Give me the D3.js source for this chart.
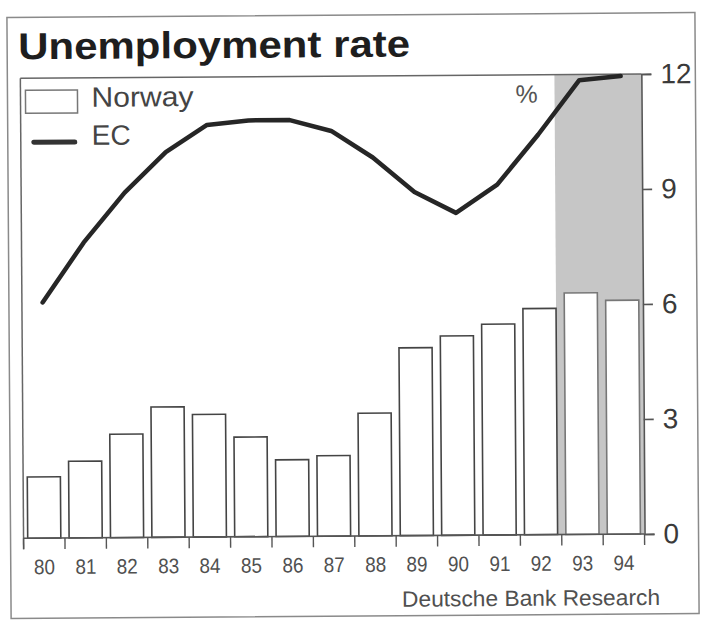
<!DOCTYPE html>
<html>
<head>
<meta charset="utf-8">
<script src="https://cdn.jsdelivr.net/npm/d3@7"></script>
<style>
  html, body { margin: 0; padding: 0; background: #fff; }
  svg { display: block; }
  text { font-family: "Liberation Sans", Arial, sans-serif; }
</style>
</head>
<body>
<svg id="chart" width="703" height="628"></svg>
<script>
// Unemployment rate, Norway (bars) vs EC (line), per cent
const years = ["80","81","82","83","84","85","86","87","88","89","90","91","92","93","94"];
const norway = [1.6, 2.0, 2.7, 3.4, 3.2, 2.6, 2.0, 2.1, 3.2, 4.9, 5.2, 5.5, 5.9, 6.3, 6.1];
const ec = [6.15, 7.7, 9.0, 10.05, 10.75, 10.86, 10.86, 10.57, 9.87, 8.96, 8.41, 9.14, 10.44, 11.85, 11.95];
const yTicks = [0, 3, 6, 9, 12];
const forecastYears = ["93", "94"];

const svg = d3.select("#chart");
const root = svg.append("g").attr("transform", "rotate(-0.4 351 314)");

const plotLeft = 22, plotRight = 643, plotTop = 76, plotBottom = 536;

const x = d3.scaleBand().domain(years).range([plotLeft, plotRight])
  .paddingInner(0.2).paddingOuter(0.1);
const y = d3.scaleLinear().domain([0, 12]).range([plotBottom, plotTop]);
const gap = x.step() * x.paddingInner();

// outer frame
root.append("rect").attr("x", 9).attr("y", 15).attr("width", 688).attr("height", 601)
  .attr("fill", "none").attr("stroke", "#8a8a8a").attr("stroke-width", 1.5);

// title
root.append("text").attr("x", 20).attr("y", 57)
  .attr("font-size", 37.5).attr("font-weight", "bold").attr("fill", "#1e1e1e")
  .attr("textLength", 392).attr("lengthAdjust", "spacingAndGlyphs")
  .text("Unemployment rate");

// shaded forecast period
const shadeX0 = x(forecastYears[0]) - gap;
root.append("rect").attr("x", shadeX0).attr("y", plotTop)
  .attr("width", plotRight - shadeX0).attr("height", plotBottom - plotTop)
  .attr("fill", "#c6c6c6");

// plot frame: top line and left line
root.append("line").attr("x1", plotLeft).attr("x2", plotRight).attr("y1", plotTop).attr("y2", plotTop)
  .attr("stroke", "#666").attr("stroke-width", 1.5);
root.append("line").attr("x1", plotLeft).attr("x2", plotLeft).attr("y1", plotTop).attr("y2", plotBottom + 11)
  .attr("stroke", "#666").attr("stroke-width", 1.5);

// Norway bars
root.append("g").selectAll("rect").data(years).join("rect")
  .attr("x", d => x(d))
  .attr("y", (d, i) => y(norway[i]))
  .attr("width", x.bandwidth())
  .attr("height", (d, i) => plotBottom - y(norway[i]))
  .attr("fill", "#fff")
  .attr("stroke", d => forecastYears.includes(d) ? "#777" : "#444")
  .attr("stroke-width", 1.6);

// EC line
const line = d3.line()
  .x((d, i) => x(years[i]) + x.bandwidth() / 2)
  .y(d => y(d));
root.append("path").datum(ec).attr("d", line)
  .attr("fill", "none").attr("stroke", "#262626").attr("stroke-width", 4.5)
  .attr("stroke-linejoin", "round").attr("stroke-linecap", "round");

// x axis: baseline, boundary ticks, labels
const xAxis = root.append("g");
xAxis.append("line").attr("x1", plotLeft).attr("x2", plotRight).attr("y1", plotBottom).attr("y2", plotBottom)
  .attr("stroke", "#555").attr("stroke-width", 1.6);
const boundaries = years.map(d => x(d) - gap / 2).concat([plotRight]);
boundaries[0] = plotLeft;
xAxis.selectAll("line.tk").data(boundaries).join("line").attr("class", "tk")
  .attr("x1", d => d).attr("x2", d => d).attr("y1", plotBottom).attr("y2", plotBottom + 11)
  .attr("stroke", "#555").attr("stroke-width", 1.4);
xAxis.selectAll("text").data(years).join("text")
  .attr("x", d => x(d) + x.bandwidth() / 2 - 10.5).attr("y", 572)
  .attr("font-size", 21).attr("fill", "#505050")
  .attr("textLength", 21).attr("lengthAdjust", "spacingAndGlyphs")
  .text(d => d);

// right value axis
const yAxis = root.append("g").attr("transform", `translate(${plotRight},0)`)
  .call(d3.axisRight(y).tickValues(yTicks).tickSize(10).tickPadding(9));
yAxis.select(".domain").attr("stroke", "#555").attr("stroke-width", 1.6);
yAxis.selectAll(".tick line").attr("stroke", "#555").attr("stroke-width", 1.6);
yAxis.selectAll(".tick text").attr("font-size", 28).attr("fill", "#3a3a3a")
  .attr("font-family", "Liberation Sans, Arial, sans-serif");

// unit label
root.append("text").attr("x", 528).attr("y", 104).attr("text-anchor", "middle")
  .attr("font-size", 25).attr("fill", "#555").text("%");

// legend
root.append("rect").attr("x", 27).attr("y", 88).attr("width", 52).attr("height", 23)
  .attr("fill", "#fff").attr("stroke", "#777").attr("stroke-width", 1.5);
root.append("text").attr("x", 93).attr("y", 105).attr("font-size", 28).attr("fill", "#444")
  .attr("textLength", 102).attr("lengthAdjust", "spacingAndGlyphs")
  .text("Norway");
root.append("line").attr("x1", 35).attr("x2", 76).attr("y1", 140).attr("y2", 140)
  .attr("stroke", "#333").attr("stroke-width", 5).attr("stroke-linecap", "round");
root.append("text").attr("x", 93).attr("y", 143).attr("font-size", 28).attr("fill", "#444")
  .text("EC");

// source
root.append("text").attr("x", 400).attr("y", 607)
  .attr("font-size", 22).attr("fill", "#505050")
  .attr("textLength", 258).attr("lengthAdjust", "spacingAndGlyphs")
  .text("Deutsche Bank Research");
</script>
</body>
</html>
